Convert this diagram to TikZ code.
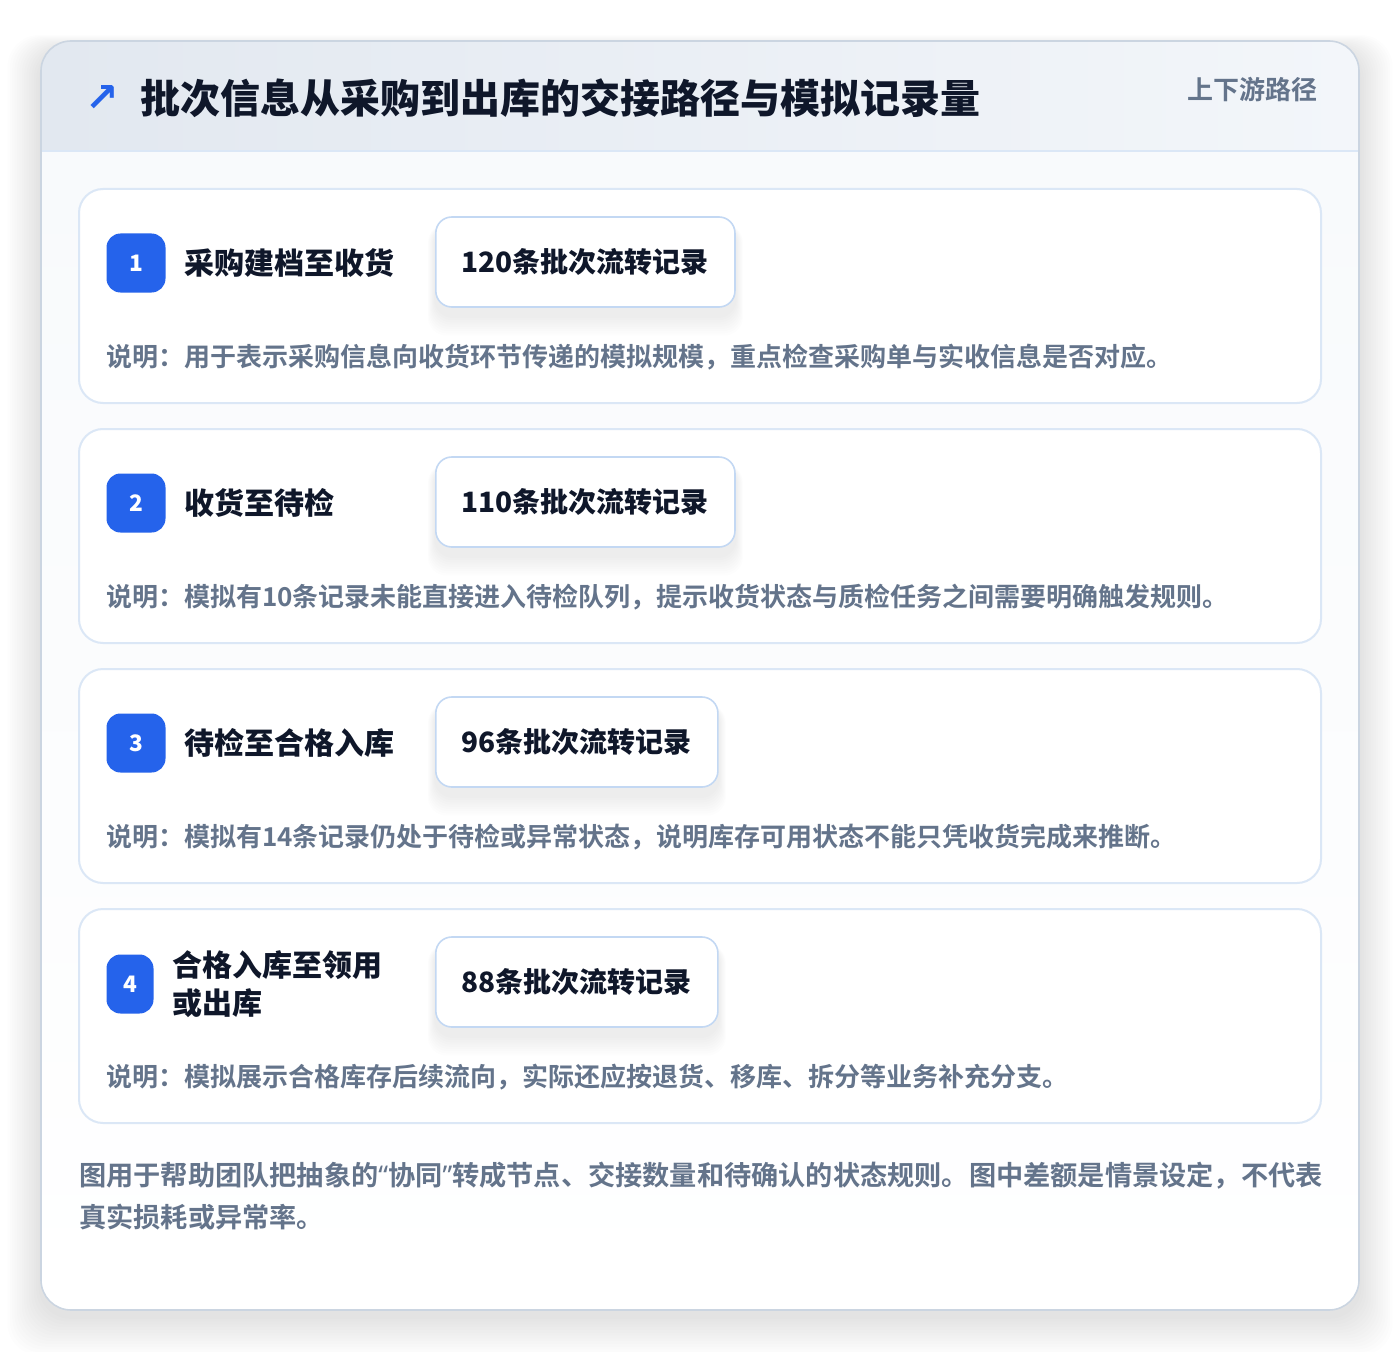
\documentclass[tikz,border=0pt]{standalone}
\usepackage{fontspec}
\setmainfont{Noto Sans CJK SC}[BoldFont={Noto Sans CJK SC Bold}]
\newfontfamily\heavy{Noto Sans CJK SC Black}
\newfontfamily\symfont{DejaVu Sans}
\newfontfamily\latinq{Noto Sans}
\usetikzlibrary{positioning,calc}
\pgfdeclarelayer{back}
\pgfdeclarelayer{mid}
\pgfsetlayers{back,mid,main}
\definecolor{ink}{HTML}{0F172A}
\definecolor{muted}{HTML}{64748B}
\definecolor{brand}{HTML}{2563EB}
\definecolor{cardline}{HTML}{DBE7F6}
\definecolor{boxline}{HTML}{C3D8F3}
\definecolor{outerline}{HTML}{CBD5E1}
\definecolor{headL}{HTML}{E2E8F0}
\definecolor{headR}{HTML}{F3F6FA}
\definecolor{bodybg}{HTML}{F8FAFC}
\tikzset{
  card/.style={draw=cardline, line width=1.5pt, fill=white, rounded corners=18pt,
    minimum width=1242*0.75pt, minimum height=214*0.75pt, inner sep=0pt},
  badge/.style={fill=brand, rounded corners=10.5pt, text=white, font=\heavy\fontsize{17pt}{18pt}\selectfont,
    minimum width=59*0.75pt, minimum height=59*0.75pt, inner sep=0pt},
  steptitle/.style={anchor=west, text=ink, font=\heavy\fontsize{22.5pt}{28.5pt}\selectfont, inner sep=0pt, align=left},
  countbox/.style={draw=boxline, line width=1.2pt, fill=white, rounded corners=12pt, anchor=west,
    text=ink, font=\heavy\fontsize{21pt}{24pt}\selectfont, inner xsep=19.5pt, minimum height=90*0.75pt},
  desc/.style={anchor=west, text=muted, font=\bfseries\fontsize{19.5pt}{24pt}\selectfont, inner sep=0pt},
}
\begin{document}
\begin{tikzpicture}[x=0.75pt,y=-0.75pt]
\useasboundingbox (0,0) rectangle (1400,1352);
\begin{pgfonlayer}{back}
% page shadow of the outer card
\foreach \i in {1,...,14}{
  \fill[black, opacity=0.007, rounded corners=24pt]
    (41-\i*2.4, 41-\i*1.0+8) rectangle (1359+\i*2.4, 1310+\i*2.8+6);
}
% outer card
\fill[white, rounded corners=22.5pt] (41,41) rectangle (1359,1310);
\begin{scope}
  \clip[rounded corners=22.5pt] (41,41) rectangle (1359,1310);
  \shade[top color=bodybg, bottom color=white] (41,151) rectangle (1359,1310);
  \shade[left color=headL, right color=headR] (41,41) rectangle (1359,151);
\end{scope}
\draw[cardline, line width=1.2pt] (41,151) -- (1359,151);
\end{pgfonlayer}
\node[draw=outerline, line width=1.2pt, rounded corners=22.5pt, minimum width=1318*0.75pt,
  minimum height=1269*0.75pt, inner sep=0pt] (outer) at (700,675.5) {};

% header
\node[text=brand, font=\symfont\bfseries\fontsize{30pt}{32pt}\selectfont, inner sep=0pt] (icon) at (102,99) {↗};
\node[anchor=west, text=ink, font=\heavy\fontsize{30pt}{34pt}\selectfont, inner sep=0pt] (title) at (140,98)
  {批次信息从采购到出库的交接路径与模拟记录量};
\node[anchor=east, text=muted, font=\bfseries\fontsize{19.5pt}{22pt}\selectfont, inner sep=0pt] (tag) at (1318,90)
  {上下游路径};

% step cards
\begin{pgfonlayer}{back}
\node[card] (card1) at (700,296) {};
\node[card] (card2) at (700,536) {};
\node[card] (card3) at (700,776) {};
\node[card] (card4) at (700,1016) {};
\end{pgfonlayer}

\node[badge] (b1) at (136,263) {1};
\node[badge] (b2) at (136,503) {2};
\node[badge] (b3) at (136,743) {3};
\node[badge, minimum width=47*0.75pt] (b4) at (130,984) {4};

\node[steptitle] (t1) at (184,263) {采购建档至收货};
\node[steptitle] (t2) at (184,503) {收货至待检};
\node[steptitle] (t3) at (184,743) {待检至合格入库};
\node[steptitle] (t4) at (172,984) {合格入库至领用\\或出库};

\node[countbox] (c1) at (435,262) {120条批次流转记录};
\node[countbox] (c2) at (435,502) {110条批次流转记录};
\node[countbox] (c3) at (435,742) {96条批次流转记录};
\node[countbox] (c4) at (435,982) {88条批次流转记录};

% soft shadows under the count boxes
\begin{pgfonlayer}{mid}
\foreach \c in {c1,c2,c3,c4}{
  \foreach \k in {1,...,9}{
    \fill[black, opacity=0.008, rounded corners=14pt]
      ($(\c.north west)+(-\k*0.8,8)$) rectangle ($(\c.south east)+(\k*0.8,8+\k*2.2)$);
  }
}
\end{pgfonlayer}

\node[desc] (d1) at (106,357) {说明：用于表示采购信息向收货环节传递的模拟规模，重点检查采购单与实收信息是否对应。};
\node[desc] (d2) at (106,597) {说明：模拟有10条记录未能直接进入待检队列，提示收货状态与质检任务之间需要明确触发规则。};
\node[desc] (d3) at (106,837) {说明：模拟有14条记录仍处于待检或异常状态，说明库存可用状态不能只凭收货完成来推断。};
\node[desc] (d4) at (106,1077) {说明：模拟展示合格库存后续流向，实际还应按退货、移库、拆分等业务补充分支。};

% footer
\node[anchor=west, text=muted, font=\bfseries\fontsize{20.4pt}{31.5pt}\selectfont, inner sep=0pt, align=left] (foot) at (79,1196)
  {图用于帮助团队把抽象的{\latinq\bfseries “}协同{\latinq\bfseries ”}转成节点、交接数量和待确认的状态规则。图中差额是情景设定，不代表\\真实损耗或异常率。};
\end{tikzpicture}
\end{document}
